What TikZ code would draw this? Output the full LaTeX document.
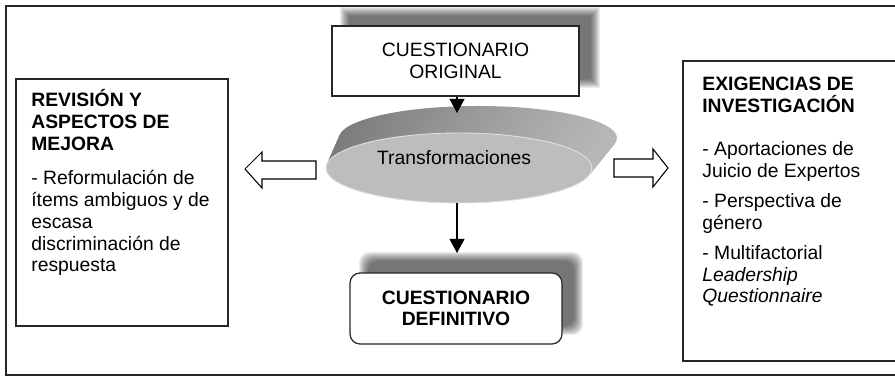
\documentclass[tikz,border=0pt]{standalone}
\usepackage{fontspec}
\setmainfont{Liberation Sans}
\usetikzlibrary{arrows.meta,shapes.geometric}

\begin{document}
\begin{tikzpicture}[x=0.02cm,y=-0.02cm,
  font=\fontsize{11}{12.5}\selectfont,
  box/.style={draw=black!85,line width=0.7pt,fill=white,inner sep=0pt,align=center},
  link/.style={line width=0.6pt,-{Triangle[width=8.5pt,length=8pt]}},
  bigarrow/.style={draw=black,line width=0.6pt,fill=white,line join=miter},
  shadelayer/.style={fill=black,opacity=0.075}]
\useasboundingbox (0,0) rectangle (895,377);
\clip (0,0) rectangle (895,377);
\draw[line width=1.2pt,black!85] (6,6) rectangle (910,375); % frame

% soft shadows
\foreach \k in {0,...,9}
  \fill[shadelayer] (340+\k,7+\k) rectangle (600-\k,88-\k);
\foreach \k in {0,...,9}
  \fill[shadelayer,rounded corners=0.2cm] (359+\k,252+\k) rectangle (583-\k,335-\k);

% disk: extrusion, then front face
\foreach \i in {0,...,25}{
  \pgfmathsetmacro\t{\i/25}
  \pgfmathsetmacro\cx{478-19*\t}
  \pgfmathsetmacro\cy{138+30*\t}
  \pgfmathsetmacro\rx{(139-6*\t)*0.02}
  \pgfmathsetmacro\ry{(32+3*\t)*0.02}
  \shade[left color=black!52,right color=black!28] (\cx,\cy) ellipse [x radius=\rx cm, y radius=\ry cm];
}
\node[ellipse,fill=black!26,draw=black!12,line width=0.5pt,
  minimum width=5.32cm,minimum height=1.4cm,inner sep=0pt] (disk) at (459,168) {};
\node[anchor=base] (disklbl) at (454,165) {Transformaciones};

% boxes
\node[box,minimum width=4.94cm,minimum height=1.4cm] (orig) at (455.5,61)
  {CUESTIONARIO\\ORIGINAL};
\node[box,rounded corners=0.2cm,minimum width=4.24cm,minimum height=1.42cm,
  font=\fontsize{11}{12}\selectfont\bfseries] (defin) at (456,308.5)
  {CUESTIONARIO\\DEFINITIVO};
\node[box,minimum width=4.24cm,minimum height=4.94cm] (revbox) at (122,202.5) {};
\node[box,minimum width=4.44cm,minimum height=6cm] (exgbox) at (794,211) {};

% texts, placed by their last baseline
\node[anchor=base west,align=left,inner sep=0pt] (revtxt) at (31,272)
  {\textbf{REVISIÓN Y}\\\textbf{ASPECTOS DE}\\\textbf{MEJORA}\\[6.5pt]
   - Reformulación de\\ítems ambiguos y de\\escasa\\discriminación de\\respuesta};
\node[anchor=base west,align=left,inner sep=0pt] (exgtxt) at (702,303)
  {\textbf{EXIGENCIAS DE}\\\textbf{INVESTIGACIÓN}\\[12pt]
   - Aportaciones de\\Juicio de Expertos\\[4.5pt]
   - Perspectiva de\\género\\[4.5pt]
   - Multifactorial\\\textit{Leadership}\\\textit{Questionnaire}};

% connectors
\coordinate (disktop) at (457,113);
\coordinate (defhead) at (457,253);
\draw[link] (orig.south -| disktop) -- (disktop);
\draw[link] (disk.south -| defhead) -- (defhead);

% block arrows
\draw[bigarrow] (316,161) -- (262,161) -- (262,152) -- (245,169) -- (262,188)
  -- (262,179) -- (316,179) -- cycle;
\draw[bigarrow] (614,159) -- (653,159) -- (653,149) -- (668,168) -- (653,187)
  -- (653,177) -- (614,177) -- cycle;
\end{tikzpicture}
\end{document}
